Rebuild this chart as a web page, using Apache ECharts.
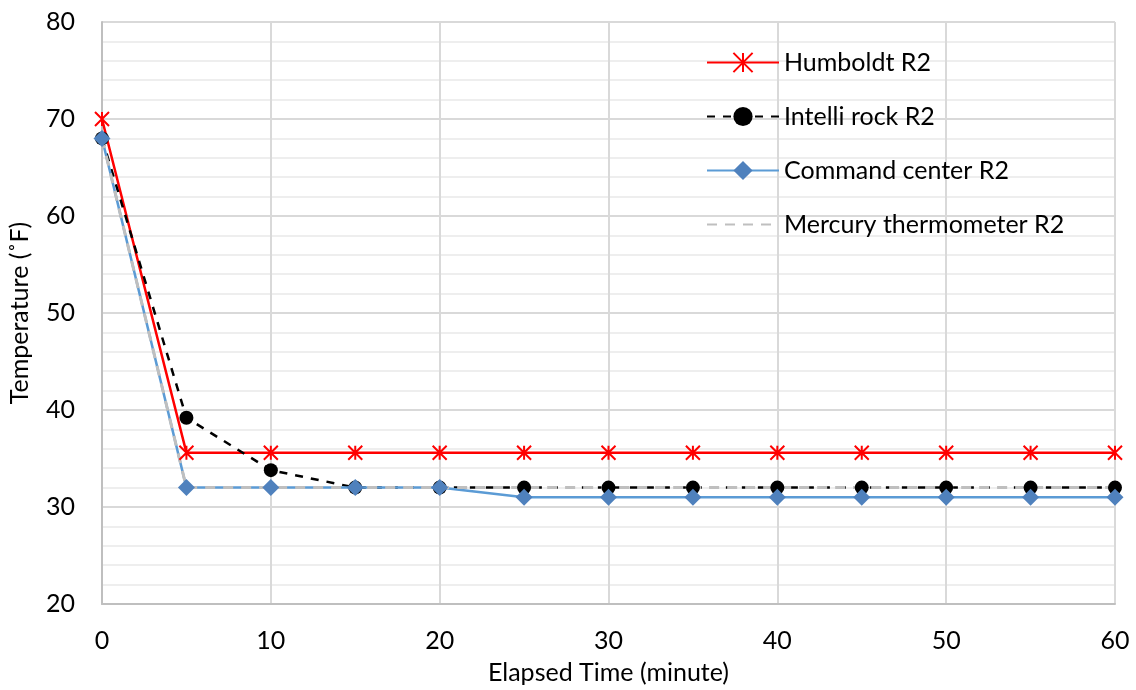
<!DOCTYPE html>
<html><head><meta charset="utf-8">
<script src="https://cdn.jsdelivr.net/npm/echarts@6/dist/echarts.min.js"></script>
<style>html,body{margin:0;padding:0;background:#fff}#c{width:1136px;height:690px}</style>
</head><body><div id="c"></div>
<script>
const times = [0,5,10,15,20,25,30,35,40,45,50,55,60];
const humboldt = [70,35.6,35.6,35.6,35.6,35.6,35.6,35.6,35.6,35.6,35.6,35.6,35.6];
const intelli = [68,39.2,33.8,32,32,32,32,32,32,32,32,32,32];
const command = [68,32,32,32,32,31,31,31,31,31,31,31,31];
const mercury = [68,32,32,32,32,32,32,32,32,32,32,32,32];
const seriesNames = ['Humboldt R2','Intelli rock R2','Command center R2','Mercury thermometer R2'];
const yTicks = [20,80,10];
const xTicks = [0,60,10];

const pair = arr => times.map((t,i)=>[t,arr[i]]);
const FONT = 'Lato';
const FS = 25;
const chart = echarts.init(document.getElementById('c'));
chart.setOption({
  animation:false,
  textStyle:{fontFamily:FONT},
  grid:{left:102,right:21,top:22,bottom:86,containLabel:false,outerBoundsMode:'none'},
  legend:{
    orient:'vertical', left:701, top:45, itemWidth:72, itemHeight:24, itemGap:29,
    textStyle:{fontFamily:FONT,fontSize:FS,color:'#000'},
    data:[
      {name:seriesNames[0]},
      {name:seriesNames[1]},
      {name:seriesNames[2]},
      {name:seriesNames[3],itemStyle:{opacity:0}}
    ]
  },
  xAxis:{
    type:'value', min:xTicks[0], max:xTicks[1], interval:xTicks[2],
    name:'Elapsed Time (minute)', nameLocation:'middle', nameGap:56,
    nameTextStyle:{fontFamily:FONT,fontSize:FS,color:'#000'},
    axisLine:{lineStyle:{color:'#BFBFBF',width:2}},
    axisTick:{show:false},
    axisLabel:{fontFamily:FONT,fontSize:FS,color:'#000',margin:24},
    splitLine:{show:true,lineStyle:{color:'#D9D9D9',width:2}}
  },
  yAxis:{
    type:'value', min:yTicks[0], max:yTicks[1], interval:yTicks[2],
    name:'Temperature (˚F)', nameLocation:'middle', nameGap:70,
    nameTextStyle:{fontFamily:FONT,fontSize:FS,color:'#000'},
    axisLine:{show:true,lineStyle:{color:'#BFBFBF',width:2}},
    axisTick:{show:false},
    axisLabel:{fontFamily:FONT,fontSize:FS,color:'#000',margin:27},
    splitLine:{show:true,lineStyle:{color:'#D9D9D9',width:2}},
    minorTick:{show:false,splitNumber:5},
    minorSplitLine:{show:true,lineStyle:{color:'#EEEEEE',width:2}}
  },
  series:[
    {name:seriesNames[0],type:'line',data:pair(humboldt),
     symbol:'path://M0,0L10,10M10,0L0,10M5,0L5,10',symbolSize:14,
     lineStyle:{color:'#FF0000',width:2.5},
     itemStyle:{color:'#FF0000',borderColor:'#FF0000',borderWidth:2}},
    {name:seriesNames[1],type:'line',data:pair(intelli),
     symbol:'circle',symbolSize:14,
     lineStyle:{color:'#000000',width:2.5,type:[8,8]},
     itemStyle:{color:'#000000'}},
    {name:seriesNames[2],type:'line',data:pair(command),
     symbol:'diamond',symbolSize:17,
     lineStyle:{color:'#5B9BD5',width:2.5},
     itemStyle:{color:'#4F81BD'}},
    {name:seriesNames[3],type:'line',data:pair(mercury),
     symbol:'none',
     lineStyle:{color:'#BFBFBF',width:3,type:[10,8]},
     itemStyle:{color:'#BFBFBF'}}
  ]
});
</script></body></html>
